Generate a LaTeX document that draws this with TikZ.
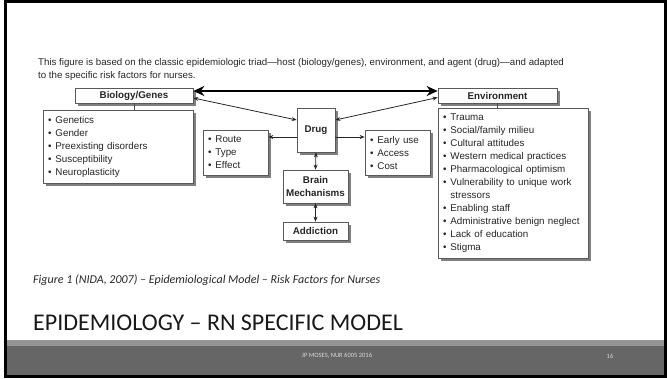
\documentclass[tikz,border=0pt]{standalone}
\usepackage{fontspec}
\setmainfont{Liberation Sans}
\newfontfamily\slidefont{Carlito}
\usetikzlibrary{arrows.meta,shadows}

\tikzset{
  riskbox/.style={draw=black!65, line width=0.7pt, fill=white, inner sep=0pt,
    drop shadow={shadow xshift=3pt, shadow yshift=-3pt, fill=black!50, opacity=1},
    text=black!85, font=\fontsize{9.8}{13}\selectfont},
  headbox/.style={riskbox, font=\fontsize{9.8}{13}\selectfont\bfseries, align=center},
  listbox/.style={riskbox, align=left, inner xsep=5pt},
  twoway/.style={draw=black!85, line width=0.8pt,
    {Stealth[length=5pt,width=4pt]}-{Stealth[length=5pt,width=4pt]}},
  oneway/.style={draw=black!85, line width=0.8pt, -{Stealth[length=5pt,width=4pt]}},
  triad/.style={draw=black, line width=2.8pt,
    {Stealth[length=11pt,width=10pt]}-{Stealth[length=11pt,width=10pt]}},
}
\newcommand{\riskitem}{\textbullet\hspace{4pt}}

\begin{document}
\begin{tikzpicture}[x=1pt, y=-1pt]
  \useasboundingbox (0,0) rectangle (667,378);

  % --- SLIDE FRAME AND FOOTER ---
  \fill[black!42] (5,340) rectangle (665,346);
  \fill[black!60] (5,346) rectangle (665,375);
  \draw[line width=3pt] (5,1.5) rectangle (665,376.5);
  \node[text=black!15, font=\slidefont\fontsize{6.5}{7}\selectfont] (footer) at (337,356) {JP MOSES, NUR 6005 2016};
  \node[text=black!15, font=\slidefont\fontsize{6.5}{7}\selectfont] (pageno) at (610,356) {16};

  % --- INTRO TEXT ---
  \node[anchor=west, text=black!85, font=\fontsize{9.7}{13}\selectfont, inner sep=0pt] (introA) at (38,63)
    {This figure is based on the classic epidemiologic triad---host (biology/genes), environment, and agent (drug)---and adapted};
  \node[anchor=west, text=black!85, font=\fontsize{9.7}{13}\selectfont, inner sep=0pt] (introB) at (38,76)
    {to the specific risk factors for nurses.};

  % 1. Host and environment
  \node[headbox, minimum width=118pt, minimum height=15pt] (biohead) at (134,95.5) {Biology/Genes};
  \node[listbox, text width=140pt, minimum height=73pt] (biolist) at (118,146.5)
    {\riskitem Genetics\\ \riskitem Gender\\ \riskitem Preexisting disorders\\
     \riskitem Susceptibility\\ \riskitem Neuroplasticity};
  \node[headbox, minimum width=119pt, minimum height=15pt] (envhead) at (497.5,95.5) {Environment};
  \node[listbox, text width=140pt, minimum height=150pt] (envlist) at (513,183)
    {\riskitem Trauma\\ \riskitem Social/family milieu\\ \riskitem Cultural attitudes\\
     \riskitem Western medical practices\\ \riskitem Pharmacological optimism\\
     \riskitem Vulnerability to unique work\\ \hphantom{\riskitem}stressors\\
     \riskitem Enabling staff\\ \riskitem Administrative benign neglect\\
     \riskitem Lack of education\\ \riskitem Stigma};

  % 2. Agent
  \node[headbox, minimum width=38pt, minimum height=44pt] (drug) at (316,130) {Drug};
  \node[listbox, text width=55pt, minimum height=45pt] (route) at (235.5,152.5)
    {\riskitem Route\\ \riskitem Type\\ \riskitem Effect};
  \node[listbox, text width=55pt, minimum height=45pt] (access) at (397.5,152.5)
    {\riskitem Early use\\ \riskitem Access\\ \riskitem Cost};
  \node[headbox, minimum width=65pt, minimum height=33pt] (brain) at (315.5,186.5) {Brain\\Mechanisms};
  \node[headbox, minimum width=65pt, minimum height=18pt] (addiction) at (315.5,231) {Addiction};

  % --- CONNECTORS ---
  \draw[black!70, line width=0.7pt] (biohead.south) -- (biohead.south |- biolist.north);
  \draw[black!70, line width=0.7pt] (envhead.south) -- (envhead.south |- envlist.north);
  \draw[triad] ([yshift=4.5pt]biohead.east) -- ([yshift=4.5pt]envhead.west);
  \draw[twoway] ([yshift=-2.5pt]biohead.east) -- ([yshift=10pt]drug.west);
  \draw[twoway] ([yshift=-2pt]envhead.west) -- ([yshift=10pt]drug.east);
  \coordinate (drugL) at ([yshift=-7pt]drug.west);
  \coordinate (drugR) at ([yshift=-7pt]drug.east);
  \draw[oneway] (drugL) -- (drugL -| route.east);
  \draw[oneway] (drugR) -- (drugR -| access.west);
  \draw[twoway] (drug.south) -- (brain.north);
  \draw[twoway] (brain.south) -- (addiction.north);

  % --- CAPTION AND TITLE ---
  \node[anchor=west, inner sep=0pt, text=black!85, font=\slidefont\itshape\fontsize{12}{14}\selectfont] (caption) at (33,280)
    {Figure 1 (NIDA, 2007) – Epidemiological Model – Risk Factors for Nurses};
  \node[anchor=west, inner sep=0pt, text=black!90, font=\slidefont\fontsize{24}{28}\selectfont] (title) at (33,323)
    {EPIDEMIOLOGY – RN SPECIFIC MODEL};
\end{tikzpicture}
\end{document}
